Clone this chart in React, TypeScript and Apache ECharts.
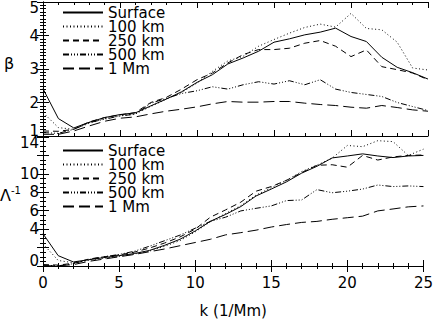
import React, { useEffect, useRef } from "react";
import * as echarts from "echarts";

const k = [0,1,2,3,4,5,6,7,8,9,10,11,12,13,14,15,16,17,18,19,20,21,22,23,24,25];
const seriesNames = ["Surface", "100 km", "250 km", "500 km", "1 Mm"];

// beta (top panel)
const betaSurface = [2.41,1.52,1.24,1.41,1.55,1.64,1.69,1.9,2.1,2.32,2.6,2.83,3.15,3.33,3.53,3.8,3.9,4.02,4.1,4.22,3.97,3.82,3.35,3.05,2.89,2.7];
const beta100 = [1.7,1.25,1.2,1.38,1.52,1.6,1.66,1.88,2.1,2.3,2.58,2.93,3.24,3.38,3.68,3.88,4.07,4.24,4.34,4.25,4.66,4.21,4.17,3.8,3.03,2.97];
const beta250 = [1.15,1.14,1.2,1.42,1.55,1.63,1.7,2.0,2.15,2.4,2.68,2.88,3.18,3.43,3.58,3.58,3.62,3.77,3.85,3.68,3.37,3.57,3.07,2.98,2.88,2.68];
const beta500 = [1.1,1.08,1.2,1.4,1.5,1.6,1.65,1.98,2.12,2.27,2.35,2.47,2.4,2.53,2.62,2.55,2.65,2.53,2.68,2.4,2.3,2.24,2.18,2.0,1.88,1.76];
const beta1M = [1.05,1.05,1.15,1.3,1.44,1.53,1.57,1.66,1.74,1.8,1.87,1.96,2.03,2.01,2.01,2.03,2.03,1.98,1.94,1.91,1.86,1.83,1.91,1.85,1.78,1.74];

// Lambda^-1 (bottom panel)
const lamSurface = [3.5,1.12,0.44,0.68,0.91,1.12,1.35,1.69,2.25,2.9,3.8,4.85,5.6,6.45,7.6,8.35,9.13,10.08,10.82,11.73,11.94,12.17,11.94,11.77,11.94,12.0];
const lam100 = [2.4,0.6,0.35,0.62,0.85,1.05,1.3,1.62,2.15,2.75,3.7,4.8,5.7,6.55,7.7,8.5,9.3,10.25,10.95,11.7,13.08,12.95,13.6,13.5,12.0,12.68];
const lam250 = [0.15,0.1,0.3,0.75,1.0,1.2,1.5,1.95,2.5,3.15,4.0,5.3,6.09,6.93,8.12,8.62,9.3,10.14,10.93,10.99,10.72,12.0,11.5,11.84,12.0,12.05];
const lam500 = [0.1,0.02,0.25,0.7,1.0,1.25,1.6,2.15,2.75,3.35,4.1,4.84,5.3,5.98,6.26,6.52,7.1,7.17,8.29,7.95,8.12,8.35,8.79,8.62,8.69,8.62];
const lam1M = [0.03,0.02,0.15,0.5,0.75,1.0,1.25,1.55,1.85,2.2,2.55,2.9,3.38,3.62,3.89,4.23,4.5,4.73,4.84,5.07,5.24,5.41,5.98,6.19,6.42,6.52];

const dashes: any[] = ["solid", [1, 2.5], [6, 4], [6, 2, 1, 2, 1, 2, 1, 2], [11, 5]];

const FONT = "DejaVu Sans";

export default function App() {
  const ref = useRef<HTMLDivElement>(null);
  useEffect(() => {
    if (!ref.current) return;
    const chart = echarts.init(ref.current, null, { renderer: "svg" });
    const topData = [betaSurface, beta100, beta250, beta500, beta1M];
    const botData = [lamSurface, lam100, lam250, lam500, lam1M];

    const axisLine = { show: true, lineStyle: { color: "#000", width: 1 } };
    const mkX = (grid: number, pos: "top" | "bottom", labels: boolean) => ({
      type: "value",
      gridIndex: grid,
      position: pos,
      min: 0,
      max: 25,
      interval: 5,
      axisLine,
      axisTick: { show: true, inside: true, length: 6, lineStyle: { color: "#000" } },
      minorTick: { show: true, splitNumber: 5, length: 3, lineStyle: { color: "#000" } },
      splitLine: { show: false },
      axisLabel: {
        show: labels,
        color: "#000",
        fontFamily: FONT,
        fontSize: 15,
        margin: 9,
        showMinLabel: true,
        showMaxLabel: true,
        hideOverlap: false,
      },
      ...(labels
        ? {
            name: "k (1/Mm)",
            nameLocation: "middle",
            nameGap: 37,
            nameTextStyle: { color: "#000", fontFamily: FONT, fontSize: 15 },
          }
        : {}),
    });
    const mkY = (grid: number, pos: "left" | "right", labels: boolean, min: number, max: number, interval: number, minor: number) => ({
      type: "value",
      gridIndex: grid,
      position: pos,
      min,
      max,
      interval,
      axisLine,
      axisTick: { show: true, inside: true, length: 6, lineStyle: { color: "#000" } },
      minorTick: { show: true, splitNumber: minor, length: 3, lineStyle: { color: "#000" } },
      splitLine: { show: false },
      axisLabel: {
        show: labels,
        color: "#000",
        fontFamily: FONT,
        fontSize: 15,
        lineHeight: 11,
        margin: 4,
        showMinLabel: true,
        showMaxLabel: true,
        hideOverlap: false,
        verticalAlignMinLabel: "bottom",
        verticalAlignMaxLabel: "top",
      },
    });

    const series: any[] = [];
    [topData, botData].forEach((set, gi) => {
      set.forEach((vals, si) => {
        series.push({
          type: "line",
          name: seriesNames[si],
          xAxisIndex: gi * 2,
          yAxisIndex: gi * 2,
          data: k.map((kk, i) => [kk, vals[i]]),
          symbol: "none",
          showSymbol: false,
          clip: true,
          lineStyle: { color: "#000", width: 1, type: dashes[si] },
          itemStyle: { color: "#000", opacity: 0 },
        });
      });
    });

    const legendBase = {
      orient: "vertical",
      left: 62,
      padding: 0,
      itemWidth: 40,
      itemHeight: 14,
      itemGap: -1,
      selectedMode: false,
      data: seriesNames,
      itemStyle: { opacity: 0 },
      textStyle: { color: "#000", fontFamily: FONT, fontSize: 15, lineHeight: 14 },
    };

    chart.setOption({
      animation: false,
      backgroundColor: "#fff",
      grid: [
        { left: 43, right: 8, top: 1, height: 135 },
        { left: 43, right: 8, top: 137, height: 138 },
      ],
      xAxis: [mkX(0, "bottom", false), mkX(0, "top", false), mkX(1, "bottom", true), mkX(1, "top", false)],
      yAxis: [
        mkY(0, "left", true, 1, 5, 1, 10),
        mkY(0, "right", false, 1, 5, 1, 10),
        mkY(1, "left", true, 0, 14, 2, 4),
        mkY(1, "right", false, 0, 14, 2, 4),
      ],
      legend: [
        { ...legendBase, top: 5 },
        { ...legendBase, top: 143 },
      ],
      graphic: [
        {
          type: "text",
          left: 4,
          top: 55,
          style: { text: "β", fontFamily: FONT, fontSize: 16, fill: "#000" },
        },
        {
          type: "text",
          left: 0,
          top: 185,
          style: {
            text: "{a|Λ}{b|-1}",
            rich: {
              a: { fontFamily: FONT, fontSize: 16, fill: "#000", lineHeight: 18, verticalAlign: "bottom" },
              b: { fontFamily: FONT, fontSize: 10, fill: "#000", verticalAlign: "top", lineHeight: 18 },
            },
          },
        },
      ],
      series,
    });
    return () => chart.dispose();
  }, []);
  return (
    <div
      ref={ref}
      style={{ position: "fixed", left: 0, top: 0, width: 436, height: 319, background: "#fff" }}
    />
  );
}
